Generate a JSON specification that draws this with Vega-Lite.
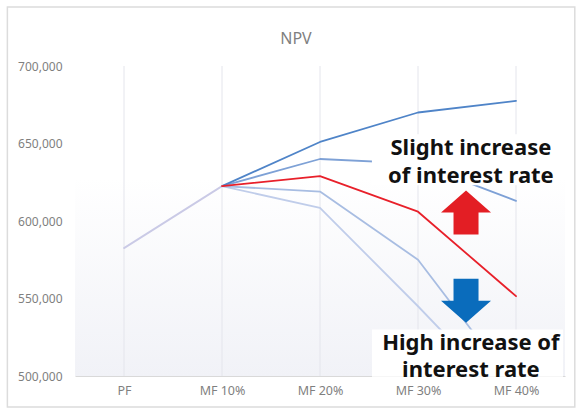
{
  "$schema": "https://vega.github.io/schema/vega-lite/v6.json",
  "width": 490,
  "height": 310,
  "autosize": "none",
  "padding": {"left": 75, "top": 66, "right": 16, "bottom": 36},
  "background": "#ffffff",
  "config": {"view": {"stroke": null}, "font": "Noto Sans"},
  "title": {"text": "NPV", "fontSize": 16, "color": "#7f7f7f", "fontWeight": "normal", "font": "Noto Sans", "anchor": "middle", "frame": "group", "offset": -41, "dx": -24},
  "datasets": {
    "npv": [
      {"series": "E", "i": 1, "stage": "MF 10%", "value": 622500},
      {"series": "E", "i": 2, "stage": "MF 20%", "value": 608500},
      {"series": "E", "i": 3, "stage": "MF 30%", "value": 545000},
      {"series": "E", "i": 4, "stage": "MF 40%", "value": 479000},
      {"series": "D", "i": 1, "stage": "MF 10%", "value": 622500},
      {"series": "D", "i": 2, "stage": "MF 20%", "value": 619000},
      {"series": "D", "i": 3, "stage": "MF 30%", "value": 575000},
      {"series": "D", "i": 4, "stage": "MF 40%", "value": 492000},
      {"series": "B", "i": 1, "stage": "MF 10%", "value": 622500},
      {"series": "B", "i": 2, "stage": "MF 20%", "value": 640000},
      {"series": "B", "i": 3, "stage": "MF 30%", "value": 637000},
      {"series": "B", "i": 4, "stage": "MF 40%", "value": 613000},
      {"series": "A", "i": 1, "stage": "MF 10%", "value": 622500},
      {"series": "A", "i": 2, "stage": "MF 20%", "value": 651000},
      {"series": "A", "i": 3, "stage": "MF 30%", "value": 670000},
      {"series": "A", "i": 4, "stage": "MF 40%", "value": 677500},
      {"series": "Base", "i": 0, "stage": "PF", "value": 582500},
      {"series": "Base", "i": 1, "stage": "MF 10%", "value": 622500},
      {"series": "C", "i": 1, "stage": "MF 10%", "value": 622500},
      {"series": "C", "i": 2, "stage": "MF 20%", "value": 629000},
      {"series": "C", "i": 3, "stage": "MF 30%", "value": 606000},
      {"series": "C", "i": 4, "stage": "MF 40%", "value": 551500}
    ],
    "grid": [
      {"i": 0, "lo": 500000, "hi": 700000},
      {"i": 1, "lo": 500000, "hi": 700000},
      {"i": 2, "lo": 500000, "hi": 700000},
      {"i": 3, "lo": 500000, "hi": 700000},
      {"i": 4, "lo": 500000, "hi": 700000}
    ],
    "shade": [{"i": -0.5, "i2": 4.5, "lo": 500000, "hi": 628000}],
    "frame": [{"i": -1.19, "i2": 4.6, "lo": 480000, "hi": 738000}],
    "boxes": [
      {"i": 2.53, "i2": 4.42, "lo": 623000, "hi": 656000},
      {"i": 2.53, "i2": 4.48, "lo": 499500, "hi": 530000}
    ],
    "notes": [
      {"i": 3.54, "value": 647000, "label": "Slight increase"},
      {"i": 3.54, "value": 629000, "label": "of interest rate"},
      {"i": 3.54, "value": 521500, "label": "High increase of"},
      {"i": 3.54, "value": 504000, "label": "interest rate"}
    ],
    "arrows": [
      {"i": 3.49, "value": 605500, "dir": "up"},
      {"i": 3.49, "value": 548500, "dir": "down"}
    ]
  },
  "layer": [
    {
      "data": {"name": "npv"},
      "mark": {"type": "line", "clip": true, "opacity": 0},
      "encoding": {
        "x": {
          "field": "i", "type": "quantitative",
          "scale": {"domain": [-0.5, 4.5], "nice": false, "zero": false},
          "axis": {"values": [0, 1, 2, 3, 4], "labelExpr": "['PF','MF 10%','MF 20%','MF 30%','MF 40%'][datum.value]", "title": null, "grid": false, "ticks": false, "domainColor": "#d9d9d9", "labelColor": "#7f7f7f", "labelFontSize": 12.5, "labelPadding": 8, "labelFont": "Noto Sans"}
        },
        "y": {
          "field": "value", "type": "quantitative",
          "scale": {"domain": [500000, 700000], "nice": false, "zero": false},
          "axis": {"values": [500000, 550000, 600000, 650000, 700000], "format": ",d", "title": null, "grid": false, "ticks": false, "domain": false, "labelColor": "#7f7f7f", "labelFontSize": 12, "labelPadding": 13, "labelFont": "Noto Sans"}
        },
        "detail": {"field": "series"}
      }
    },
    {
      "data": {"name": "frame"},
      "mark": {"type": "rect", "fill": null, "filled": false, "stroke": "#dcdcdc", "strokeWidth": 1.5, "clip": false},
      "encoding": {
        "x": {"field": "i", "type": "quantitative"},
        "x2": {"field": "i2"},
        "y": {"field": "lo", "type": "quantitative"},
        "y2": {"field": "hi"}
      }
    },
    {
      "data": {"name": "shade"},
      "mark": {"type": "rect", "color": {"gradient": "linear", "x1": 0, "y1": 0, "x2": 0, "y2": 1, "stops": [{"offset": 0, "color": "#ffffff"}, {"offset": 1, "color": "#f1f2f7"}]}},
      "encoding": {
        "x": {"field": "i", "type": "quantitative"},
        "x2": {"field": "i2"},
        "y": {"field": "lo", "type": "quantitative"},
        "y2": {"field": "hi"}
      }
    },
    {
      "data": {"name": "grid"},
      "mark": {"type": "rule", "color": "#e4e5ec", "strokeWidth": 1},
      "encoding": {
        "x": {"field": "i", "type": "quantitative"},
        "y": {"field": "lo", "type": "quantitative"},
        "y2": {"field": "hi"}
      }
    },
    {
      "data": {"name": "npv"},
      "mark": {"type": "line", "clip": true, "strokeCap": "round", "strokeJoin": "round"},
      "encoding": {
        "x": {"field": "i", "type": "quantitative"},
        "y": {"field": "value", "type": "quantitative"},
        "color": {"field": "series", "type": "nominal", "legend": null, "sort": null,
          "scale": {"domain": ["E", "D", "B", "A", "Base", "C"], "range": ["#c0cdea", "#a8bde2", "#7ea1d6", "#4f84c8", "#cacae6", "#e8202a"]}},
        "strokeWidth": {"field": "series", "type": "nominal", "legend": null,
          "scale": {"domain": ["E", "D", "B", "A", "Base", "C"], "range": [1.8, 1.8, 2, 2.2, 2.6, 2.2]}},
        "order": {"field": "i", "type": "quantitative"}
      }
    },
    {
      "data": {"name": "boxes"},
      "mark": {"type": "rect", "color": "#ffffff", "opacity": 1, "clip": false},
      "encoding": {
        "x": {"field": "i", "type": "quantitative"},
        "x2": {"field": "i2"},
        "y": {"field": "lo", "type": "quantitative"},
        "y2": {"field": "hi"}
      }
    },
    {
      "data": {"name": "arrows"},
      "transform": [{"filter": "datum.dir === 'up'"}],
      "mark": {"type": "point", "filled": true, "opacity": 1, "size": 2500, "strokeWidth": 0, "color": "#e31e24",
        "shape": "M0,-0.88 L1,0 L0.5,0 L0.5,0.88 L-0.5,0.88 L-0.5,0 L-1,0 Z"},
      "encoding": {
        "x": {"field": "i", "type": "quantitative"},
        "y": {"field": "value", "type": "quantitative"}
      }
    },
    {
      "data": {"name": "arrows"},
      "transform": [{"filter": "datum.dir === 'down'"}],
      "mark": {"type": "point", "filled": true, "opacity": 1, "size": 2500, "strokeWidth": 0, "color": "#0a6cbc",
        "shape": "M0,0.88 L1,0 L0.5,0 L0.5,-0.88 L-0.5,-0.88 L-0.5,0 L-1,0 Z"},
      "encoding": {
        "x": {"field": "i", "type": "quantitative"},
        "y": {"field": "value", "type": "quantitative"}
      }
    },
    {
      "data": {"name": "notes"},
      "mark": {"type": "text", "font": "Noto Sans", "fontWeight": "bold", "fontSize": 22, "color": "#111111", "align": "center", "baseline": "middle"},
      "encoding": {
        "x": {"field": "i", "type": "quantitative"},
        "y": {"field": "value", "type": "quantitative"},
        "text": {"field": "label"}
      }
    }
  ]
}
